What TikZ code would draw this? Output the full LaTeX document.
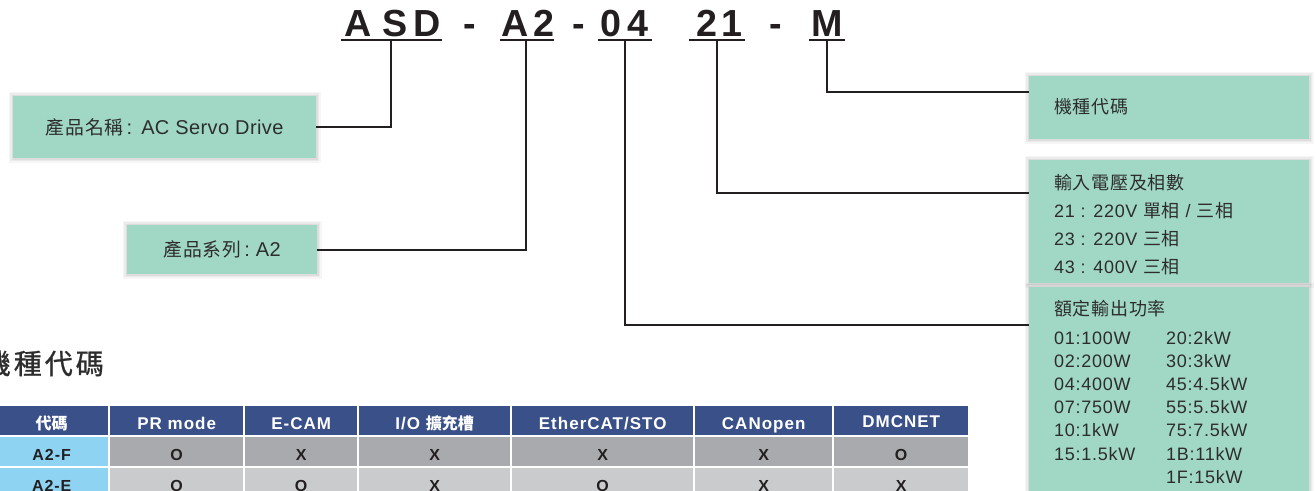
\documentclass[tikz,border=0pt]{standalone}
\usepackage{fontspec}
\setmainfont{Liberation Sans}
\newfontfamily\lat[LetterSpace=4]{Liberation Sans}
\newfontfamily\latL[LetterSpace=2]{Liberation Sans}
\newfontfamily\latb[LetterSpace=6]{Liberation Sans}
\newfontfamily\cjk[LetterSpace=4]{Noto Sans CJK TC}
\newfontfamily\cjkb{Noto Sans CJK TC}
\newfontfamily\cjkm[FakeBold=0.9]{Noto Sans CJK TC}
\definecolor{boxgreen}{RGB}{161,216,197}
\definecolor{hdrblue}{RGB}{58,80,137}
\definecolor{codeblue}{RGB}{142,211,242}
\definecolor{rowdark}{RGB}{168,170,173}
\definecolor{rowlight}{RGB}{201,203,205}
\definecolor{ink}{RGB}{35,31,32}
\definecolor{txt}{RGB}{45,45,45}
\newcommand\zhL[1]{{\cjk\fontsize{18.8}{22}\selectfont #1}}
\newcommand\zhR[1]{{\cjk\fontsize{18}{22}\selectfont #1}}
\newcommand\zhH[1]{{\cjkb\bfseries\fontsize{16}{18}\selectfont #1}}
\begin{document}
\begin{tikzpicture}[x=1pt,y=-1pt,
  greenbox/.style={fill=boxgreen, inner sep=0pt, anchor=north west,
    preaction={draw=black, draw opacity=0.035, line width=9pt},
    preaction={draw=black, draw opacity=0.045, line width=6pt},
    preaction={draw=black, draw opacity=0.06, line width=3pt}},
  titlech/.style={font=\fontsize{37.7}{40}\selectfont\bfseries, text=ink, anchor=base, inner sep=0pt},
  conn/.style={draw=ink, line width=1.8pt},
  uline/.style={draw=ink, line width=2.4pt},
  ltext/.style={text=txt, font=\latL\fontsize{20}{24}\selectfont},
  rtext/.style={text=txt, font=\lat\fontsize{18}{22}\selectfont, anchor=base west, inner sep=0pt},
  cell/.style={anchor=north west, inner sep=0pt, minimum height=29pt, text height=17pt, text depth=0pt},
  hdr/.style={cell, fill=hdrblue, text=white, font=\latb\bfseries\fontsize{17}{19}\selectfont},
  codec/.style={cell, fill=codeblue, text=ink, font=\latb\bfseries\fontsize{16}{18}\selectfont},
  dcell/.style={cell, fill=rowdark, text=ink, font=\latb\bfseries\fontsize{16}{18}\selectfont},
  lcell/.style={cell, fill=rowlight, text=ink, font=\latb\bfseries\fontsize{16}{18}\selectfont}
]
\fill[white] (0,0) rectangle (1316,490);
\useasboundingbox (0,0) rectangle (1316,490);
\clip (0,0) rectangle (1316,490);

% model code letters
\node[titlech] (t1) at (358,36) {A};
\node[titlech] (t2) at (395,36) {S};
\node[titlech] (t3) at (427,36) {D};
\node[titlech] (t4) at (470,36) {-};
\node[titlech] (t5) at (515,36) {A};
\node[titlech] (t6) at (544,36) {2};
\node[titlech] (t7) at (579,36) {-};
\node[titlech] (t8) at (611,36) {0};
\node[titlech] (t9) at (638,36) {4};
\node[titlech] (t10) at (707,36) {2};
\node[titlech] (t11) at (732,36) {1};
\node[titlech] (t12) at (776,36) {-};
\node[titlech] (t13) at (827,36) {M};

% underlines
\coordinate (uASDl) at (341,40); \coordinate (uASDr) at (442,40);
\coordinate (uA2l) at (500,40);  \coordinate (uA2r) at (554,40);
\coordinate (u04l) at (598,40);  \coordinate (u04r) at (652,40);
\coordinate (u21l) at (689,40);  \coordinate (u21r) at (745,40);
\coordinate (uMl) at (809,40);   \coordinate (uMr) at (845,40);
\draw[uline] (uASDl) -- (uASDr);
\draw[uline] (uA2l) -- (uA2r);
\draw[uline] (u04l) -- (u04r);
\draw[uline] (u21l) -- (u21r);
\draw[uline] (uMl) -- (uMr);
\coordinate (dASD) at (391,40);
\coordinate (dA2) at (526,40);
\coordinate (d04) at (625,40);
\coordinate (d21) at (717,40);
\coordinate (dM) at (827,40);

% left boxes
\node[greenbox, ltext, minimum width=303pt, minimum height=62pt] (prod) at (13,96)
  {\zhL{產品名稱}\,:\hspace{9pt}AC Servo Drive};
\node[greenbox, ltext, minimum width=190pt, minimum height=49pt] (series) at (127,225)
  {\zhL{產品系列}\,:\hspace{6pt}A2};

% right boxes
\node[greenbox, minimum width=280pt, minimum height=63pt] (model) at (1029,76) {};
\node[rtext] (modelt) at (1054,113.5) {\zhR{機種代碼}};
\node[greenbox, minimum width=280pt, minimum height=123pt] (volt) at (1029,160) {};
\node[rtext] (volt1) at (1054,189.5) {\zhR{輸入電壓及相數}};
\node[rtext] (volt2) at (1054,217) {21 : 220V \zhR{單相} / \zhR{三相}};
\node[rtext] (volt3) at (1054,245.2) {23 : 220V \zhR{三相}};
\node[rtext] (volt4) at (1054,273) {43 : 400V \zhR{三相}};
\node[greenbox, minimum width=280pt, minimum height=220pt] (pwr) at (1029,287) {};
\node[rtext] (pwr0) at (1054,315.5) {\zhR{額定輸出功率}};
\foreach \a/\b [count=\i] in {01:100W/20:2kW, 02:200W/30:3kW, 04:400W/45:4.5kW,
  07:750W/55:5.5kW, 10:1kW/75:7.5kW, 15:1.5kW/1B:11kW}{
  \node[rtext] (pa\i) at (1054,{344.5+23.1*(\i-1)}) {\a};
  \node[rtext] (pb\i) at (1166,{344.5+23.1*(\i-1)}) {\b};
}
\node[rtext] (pb7) at (1166,483.3) {1F:15kW};

\coordinate (modelIn) at (1029,92);
\coordinate (voltIn) at (1029,193);
\coordinate (pwrIn) at (1029,325);

% connectors
\draw[conn] (dASD) |- (prod.east);
\draw[conn] (dA2) |- (series.east);
\draw[conn] (d04) |- (pwrIn);
\draw[conn] (d21) |- (voltIn);
\draw[conn] (dM) |- (modelIn);

% section title
\node[anchor=base east, inner sep=0pt, text=txt, font=\cjkm\fontsize{28}{30}\selectfont] (sect) at (104,374)
  {機\hspace{3pt}種\hspace{3pt}代\hspace{3pt}碼};

% table header
\node[hdr, minimum width=113pt] (h1) at (-5,406) {\zhH{代碼}};
\node[hdr, minimum width=133pt] (h2) at (110,406) {PR mode};
\node[hdr, minimum width=112pt] (h3) at (245,406) {E-CAM};
\node[hdr, minimum width=151pt] (h4) at (359,406) {I/O \zhH{擴充槽}};
\node[hdr, minimum width=181pt] (h5) at (512,406) {EtherCAT/STO};
\node[hdr, minimum width=137pt] (h6) at (695,406) {CANopen};
\node[hdr, minimum width=134pt, text height=13pt] (h7) at (834,406) {DMCNET};

% rows
\node[codec, minimum width=113pt] (a1) at (-5,437) {A2-F};
\node[codec, minimum width=113pt] (b1) at (-5,468) {A2-E};
\foreach \x/\w/\p/\q [count=\i from 2] in {110/133/O/O, 245/112/X/O, 359/151/X/X, 512/181/X/O, 695/137/X/X, 834/134/O/X}{
  \node[dcell, minimum width=\w pt] (a\i) at (\x,437) {\p};
  \node[lcell, minimum width=\w pt] (b\i) at (\x,468) {\q};
}
\end{tikzpicture}
\end{document}
